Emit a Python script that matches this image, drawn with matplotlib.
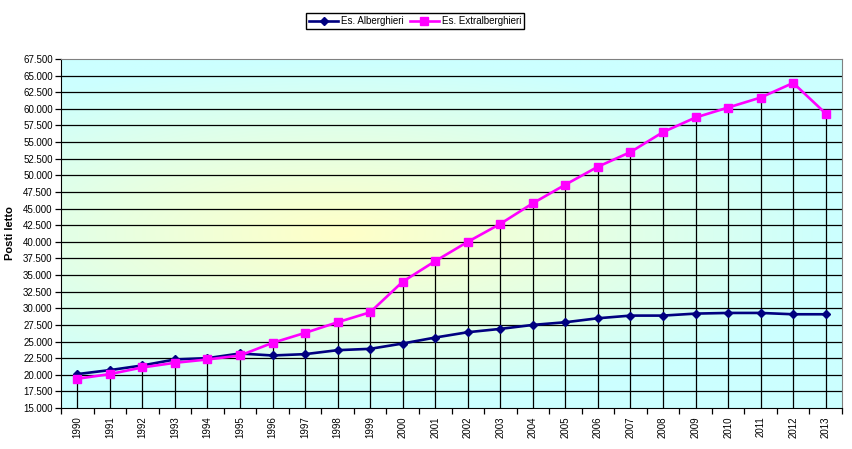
import numpy as np
import matplotlib.pyplot as plt
from matplotlib.colors import LinearSegmentedColormap
from matplotlib.ticker import FuncFormatter

plt.rcParams['font.family'] = ['Liberation Sans', 'DejaVu Sans']

years = [str(y) for y in range(1990, 2014)]
alberghieri = [20100, 20700, 21400, 22300, 22500, 23200, 22900, 23100, 23700, 23900,
               24700, 25600, 26400, 26900, 27500, 27900, 28500, 28900, 28900, 29200,
               29300, 29300, 29100, 29100]
extralberghieri = [19400, 20100, 21100, 21800, 22300, 22900, 24800, 26300, 27900, 29400,
                   34000, 37100, 40000, 42700, 45800, 48600, 51300, 53500, 56500, 58700,
                   60200, 61700, 63900, 59300]

fig = plt.figure(figsize=(8.52, 4.49), dpi=100)
ax = fig.add_axes([61/852, 1-408/449, 781/852, 349/449])

x = np.arange(len(years))
ax.set_xlim(-0.5, len(years) - 0.5)
ax.set_ylim(15000, 67500)

# radial gradient background (yellow centre, cyan edges)
gx, gy = np.meshgrid(np.linspace(0, 1, 300), np.linspace(0, 1, 200))
r = np.sqrt(((gx - 0.36) / 0.64) ** 2 + ((gy - 0.5) / 0.5) ** 2)
r = np.clip(r, 0, 1)
cmap = LinearSegmentedColormap.from_list('bg', ['#FFFFC8', '#CCFFFF'])
ax.imshow(r, cmap=cmap, extent=[0, 1, 0, 1], transform=ax.transAxes,
          aspect='auto', origin='lower', zorder=0)

# horizontal gridlines
for v in np.arange(17500, 67500, 2500):
    ax.axhline(v, color='black', lw=0.9, zorder=1)

# drop lines from the higher series down to the axis
tops = np.maximum(alberghieri, extralberghieri)
ax.vlines(x, 15000, tops, color='black', lw=0.9, zorder=1)

ax.plot(x, alberghieri, color='#000080', lw=1.9, marker='D', ms=4.5,
        label='Es. Alberghieri', zorder=3)
ax.plot(x, extralberghieri, color='#FF00FF', lw=1.9, marker='s', ms=6,
        label='Es. Extralberghieri', zorder=3)

ax.set_yticks(np.arange(15000, 67501, 2500))
ax.yaxis.set_major_formatter(FuncFormatter(lambda v, p: f'{v:,.0f}'.replace(',', '.')))
ax.set_xticks(x)
ax.set_xticklabels(years, rotation=90, fontsize=7)
ax.set_xticks(np.arange(-0.5, len(years), 1), minor=True)
ax.tick_params(axis='x', which='major', length=0, pad=6)
ax.tick_params(axis='x', which='minor', length=4, direction='out', width=0.9)
ax.tick_params(axis='y', length=4, direction='out', width=0.9, labelsize=7, pad=2)

for s in ['top', 'right']:
    ax.spines[s].set_color('#808080')
for s in ['left', 'bottom']:
    ax.spines[s].set_color('black')

ax.set_ylabel('Posti letto', fontsize=8, fontweight='bold', labelpad=6)

fig.legend(loc='center', bbox_to_anchor=(415/852, 1-21/449), ncol=2, fontsize=7,
           frameon=True, fancybox=False, edgecolor='black', framealpha=1,
           handlelength=3, columnspacing=0.6, handletextpad=0.3, borderpad=0.3)

fig.savefig('out.png', dpi=100)
